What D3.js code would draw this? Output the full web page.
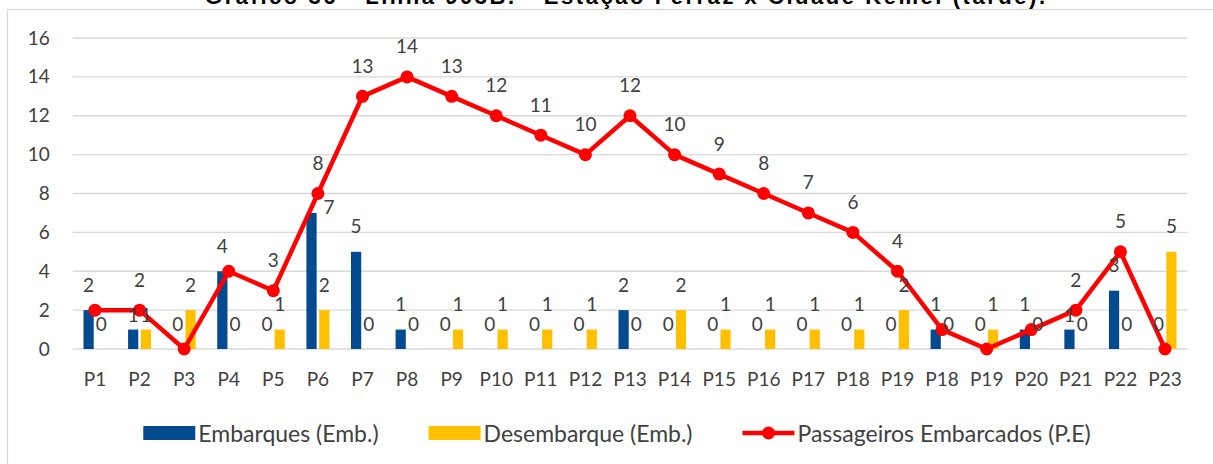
<!DOCTYPE html>
<html>
<head>
<meta charset="utf-8">
<script src="https://cdn.jsdelivr.net/npm/d3@7"></script>
<style>
  body { margin: 0; background: #fff; }
  svg { display: block; }
</style>
</head>
<body>
<svg id="viz"></svg>
<script>
const WIDTH = 1213
const HEIGHT = 464

const TITLE = 'Gráfico 36 - Linha 903B. - Estação Ferraz x Cidade Kemel (tarde).'
const CATEGORIES = ['P1', 'P2', 'P3', 'P4', 'P5', 'P6', 'P7', 'P8', 'P9', 'P10', 'P11', 'P12', 'P13',
    'P14', 'P15', 'P16', 'P17', 'P18', 'P19', 'P18', 'P19', 'P20', 'P21', 'P22', 'P23']
const EMBARQUES = [2, 1, 0, 4, 0, 7, 5, 1, 0, 0, 0, 0, 2, 0, 0, 0, 0, 0, 0, 1, 0, 1, 1, 3, 0]
const DESEMBARQUE = [0, 1, 2, 0, 1, 2, 0, 0, 1, 1, 1, 1, 0, 2, 1, 1, 1, 1, 2, 0, 1, 0, 0, 0, 5]
const PASSAGEIROS = [2, 2, 0, 4, 3, 8, 13, 14, 13, 12, 11, 10, 12, 10, 9, 8, 7, 6, 4, 1, 0, 1, 2, 5, 0]
const Y_TICKS = [0, 2, 4, 6, 8, 10, 12, 14, 16]
const SERIES_NAMES = ['Embarques (Emb.)', 'Desembarque (Emb.)', 'Passageiros Embarcados (P.E)']

const COLOR_EMB = '#034a91'
const COLOR_DES = '#ffc000'
const COLOR_LINE = '#ff0000'
const COLOR_TEXT = '#404040'
const COLOR_GRID = '#d9d9d9'
const FONT = 'Lato, "Noto Sans", sans-serif'

const PLOT = { left: 72.7, right: 1187.3, top: 38, bottom: 349 }
const MARKER_R = 6.5

const svg = d3.select('#viz')
    .attr('width', WIDTH)
    .attr('height', HEIGHT)

// chart area border (cut at right and bottom in the reference)
svg.append('rect')
    .attr('x', 7.5).attr('y', 9.5)
    .attr('width', WIDTH + 20).attr('height', HEIGHT + 20)
    .style('fill', 'none')
    .style('stroke', COLOR_GRID)
    .style('stroke-width', 1.3)

svg.append('text')
    .attr('x', 625).attr('y', 4)
    .attr('text-anchor', 'middle')
    .style('font-family', '"Liberation Sans", Arial, sans-serif')
    .style('font-weight', 'bold')
    .style('font-size', '22px')
    .attr('textLength', 840)
    .text(TITLE)

const idx = CATEGORIES.map((c, i) => i)

const x = d3.scaleBand()
    .domain(idx)
    .range([PLOT.left, PLOT.right])

const y = d3.scaleLinear()
    .domain([0, 16])
    .range([PLOT.bottom, PLOT.top])

const groupHalf = 11.5
const x1 = d3.scaleBand()
    .domain(['emb', 'des'])
    .range([x.bandwidth() / 2 - groupHalf, x.bandwidth() / 2 + groupHalf])
    .paddingInner(0.2)

const cx = i => x(i) + x.bandwidth() / 2

// gridlines
svg.append('g')
    .selectAll('line')
    .data(Y_TICKS)
    .enter().append('line')
        .attr('x1', PLOT.left)
        .attr('x2', PLOT.right)
        .attr('y1', d => y(d))
        .attr('y2', d => y(d))
        .style('stroke', COLOR_GRID)
        .style('stroke-width', 1.3)

// y axis
const yAxis = svg.append('g')
    .attr('transform', `translate(${PLOT.left - 23},0)`)
    .call(d3.axisLeft(y).tickValues(Y_TICKS).tickSize(0).tickPadding(0))
yAxis.select('.domain').remove()
yAxis.selectAll('text')
    .style('font-family', FONT)
    .style('font-size', '19px')
    .style('fill', COLOR_TEXT)

// x axis
const xAxis = svg.append('g')
    .attr('transform', `translate(0,${PLOT.bottom})`)
    .call(d3.axisBottom(x).tickFormat(i => CATEGORIES[i]).tickSize(0).tickPadding(24))
xAxis.select('.domain').remove()
xAxis.selectAll('text')
    .style('font-family', FONT)
    .style('font-size', '19px')
    .style('fill', COLOR_TEXT)

const barData = idx.flatMap(i => [
    { i, key: 'emb', value: EMBARQUES[i] },
    { i, key: 'des', value: DESEMBARQUE[i] }
])

svg.append('g')
    .selectAll('rect')
    .data(barData)
    .enter().append('rect')
        .attr('x', d => x(d.i) + x1(d.key))
        .attr('y', d => y(d.value))
        .attr('width', x1.bandwidth())
        .attr('height', d => y(0) - y(d.value))
        .style('fill', d => d.key === 'emb' ? COLOR_EMB : COLOR_DES)

const line = d3.line()
    .x(i => cx(i))
    .y(i => y(PASSAGEIROS[i]))

svg.append('path')
    .datum(idx)
    .attr('d', line)
    .style('fill', 'none')
    .style('stroke', COLOR_LINE)
    .style('stroke-width', 4.5)
    .style('stroke-linejoin', 'round')

svg.append('g')
    .selectAll('circle')
    .data(idx)
    .enter().append('circle')
        .attr('cx', i => cx(i))
        .attr('cy', i => y(PASSAGEIROS[i]))
        .attr('r', MARKER_R)
        .style('fill', COLOR_LINE)

// bar label placement: above the bar, nudged away when it would sit on the line marker
barData.forEach(d => {
    d.lx = x(d.i) + x1(d.key) + x1.bandwidth() / 2
    d.ly = y(d.value) - 26
    const mx = cx(d.i)
    const my = y(PASSAGEIROS[d.i])
    if (d.value > 0 && Math.hypot(d.lx - mx, d.ly - my) < 12) {
        const prev = d.i > 0 ? PASSAGEIROS[d.i - 1] : PASSAGEIROS[d.i]
        if (Math.abs(PASSAGEIROS[d.i] - prev) > 2) {
            d.lx = mx + 11
            d.ly = y(d.value) - 6
        } else {
            d.ly += 11
        }
    }
})

const labelStyle = sel => sel
    .attr('text-anchor', 'middle')
    .attr('dominant-baseline', 'central')
    .style('font-family', FONT)
    .style('font-size', '19px')
    .style('fill', COLOR_TEXT)

svg.append('g')
    .selectAll('text')
    .data(barData)
    .enter().append('text')
        .call(labelStyle)
        .attr('x', d => d.lx)
        .attr('y', d => d.ly)
        .text(d => d.value)

// line labels; skip one if an identical bar label already sits on that spot
const lineLabels = idx.map(i => ({ i, lx: cx(i), ly: y(PASSAGEIROS[i]) - 31, value: PASSAGEIROS[i] }))
    .filter(l => !barData.some(b => b.i === l.i && b.value === l.value &&
        Math.abs(b.lx - l.lx) < 14 && Math.abs(b.ly - l.ly) < 12))

svg.append('g')
    .selectAll('text')
    .data(lineLabels)
    .enter().append('text')
        .call(labelStyle)
        .attr('x', d => d.lx)
        .attr('y', d => d.ly)
        .text(d => d.value)

// legend
const legend = svg.append('g')
const LEGEND_Y = 433
const SWATCH_W = 52
const items = SERIES_NAMES.map((name, k) => ({ name, k }))
const texts = legend.selectAll('text')
    .data(items)
    .enter().append('text')
        .attr('y', LEGEND_Y)
        .attr('dominant-baseline', 'central')
        .style('font-family', FONT)
        .style('font-size', '23px')
        .style('fill', COLOR_TEXT)
        .text(d => d.name)

const widths = texts.nodes().map(n => n.getComputedTextLength())
const GAP = 50
const total = d3.sum(widths) + items.length * (SWATCH_W + 3) + GAP * (items.length - 1)
let cursor = 617 - total / 2
items.forEach((d, k) => {
    d.x = cursor
    cursor += SWATCH_W + 3 + widths[k] + GAP
})

texts.attr('x', d => d.x + SWATCH_W + 3)

legend.selectAll('rect')
    .data(items.slice(0, 2))
    .enter().append('rect')
        .attr('x', d => d.x)
        .attr('y', LEGEND_Y - 7)
        .attr('width', SWATCH_W)
        .attr('height', 14)
        .style('fill', d => d.k === 0 ? COLOR_EMB : COLOR_DES)

const lineItem = items[2]
legend.append('line')
    .attr('x1', lineItem.x).attr('x2', lineItem.x + SWATCH_W)
    .attr('y1', LEGEND_Y).attr('y2', LEGEND_Y)
    .style('stroke', COLOR_LINE)
    .style('stroke-width', 4.5)
legend.append('circle')
    .attr('cx', lineItem.x + SWATCH_W / 2)
    .attr('cy', LEGEND_Y)
    .attr('r', MARKER_R)
    .style('fill', COLOR_LINE)
</script>
</body>
</html>
